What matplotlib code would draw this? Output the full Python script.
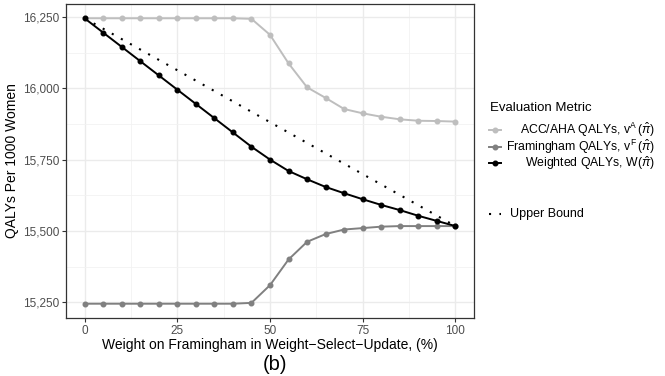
import matplotlib
matplotlib.use("Agg")
import matplotlib.pyplot as plt
from matplotlib.lines import Line2D
from matplotlib.ticker import FuncFormatter, MultipleLocator

plt.rcParams['font.family'] = ['Liberation Sans', 'DejaVu Sans']
plt.rcParams['mathtext.fontset'] = 'custom'
plt.rcParams['mathtext.rm'] = 'Liberation Sans'
plt.rcParams['mathtext.it'] = 'Liberation Sans:italic'

weight = [0, 5, 10, 15, 20, 25, 30, 35, 40, 45, 50,
          55, 60, 65, 70, 75, 80, 85, 90, 95, 100]
acc_aha = [16245, 16245, 16245, 16245, 16245, 16245, 16245, 16245, 16245, 16243, 16187,
           16087, 16003, 15966, 15927, 15912, 15900, 15891, 15886, 15885, 15883]
framingham = [15245, 15245, 15245, 15245, 15245, 15245, 15245, 15245, 15245, 15248, 15310,
              15400, 15462, 15489, 15505, 15510, 15515, 15517, 15517, 15517, 15517]
weighted = [16245, 16195, 16145, 16095, 16045, 15995, 15945, 15895, 15845, 15795, 15750,
            15710, 15681, 15654, 15632, 15611, 15591, 15573, 15553, 15535, 15517]
upper_x = [0, 100]
upper_y = [16245, 15517]

labels = [r'ACC/AHA QALYs, $\mathrm{v}^{\mathrm{A}}\,(\hat{\pi})$',
          r'Framingham QALYs, $\mathrm{v}^{\mathrm{F}}\,(\hat{\pi})$',
          r'Weighted QALYs, $\mathrm{W}(\hat{\pi})$']
colors = ['#BEBEBE', '#808080', '#000000']

fig = plt.figure(figsize=(6.65, 3.76), dpi=100)
ax = fig.add_axes([66 / 665, 1 - 318 / 376, 408 / 665, 314 / 376])

for ys, c in zip([acc_aha, framingham, weighted], colors):
    ax.plot(weight, ys, color=c, lw=1.4, marker='o', ms=3.3, zorder=3)
ax.plot(upper_x, upper_y, color='black', lw=1.5, ls=(0, (1, 4)), zorder=2)

ax.set_xlim(-5, 105)
ax.set_ylim(15195, 16295)
ax.xaxis.set_major_locator(MultipleLocator(25))
ax.xaxis.set_minor_locator(MultipleLocator(12.5))
ax.yaxis.set_major_locator(MultipleLocator(250))
ax.yaxis.set_minor_locator(MultipleLocator(125))
ax.yaxis.set_major_formatter(FuncFormatter(lambda v, p: f'{int(v):,}'))
ax.grid(which='major', color='#EBEBEB', lw=1.0)
ax.grid(which='minor', color='#F2F2F2', lw=0.6)
ax.set_axisbelow(True)
ax.tick_params(which='minor', length=0)
ax.tick_params(which='major', length=3, color='#333333', labelsize=8.5,
               labelcolor='#4D4D4D', pad=2)
for s in ax.spines.values():
    s.set_color('#333333')
    s.set_linewidth(0.9)

ax.set_xlabel('Weight on Framingham in Weight\u2212Select\u2212Update, (%)',
              fontsize=10, labelpad=1)
ax.set_ylabel('QALYs Per 1000 Women', fontsize=10, labelpad=3)

fig.text(275 / 665, 1 - 364 / 376, '(b)', fontsize=14.5, ha='center', va='center')

# legend, drawn by hand so the labels can be right aligned like ggplot
fig.text(490 / 665, 1 - 108 / 376, 'Evaluation Metric', fontsize=9.5,
         ha='left', va='center')
for i, (lab, c) in enumerate(zip(labels, colors)):
    yy = 1 - (130 + 16.5 * i) / 376
    fig.add_artist(Line2D([489 / 665, 501 / 665], [yy, yy], color=c, lw=1.4))
    fig.add_artist(Line2D([495 / 665], [yy], color=c, marker='o', ms=3.3))
    fig.text(655 / 665, yy, lab, fontsize=8.8, ha='right', va='center')

yy = 1 - 214 / 376
fig.add_artist(Line2D([489 / 665, 501 / 665], [yy, yy], color='black', lw=1.5,
                      ls=(0, (1, 4))))
fig.text(510 / 665, yy, 'Upper Bound', fontsize=9, ha='left', va='center')

fig.savefig('out.png', dpi=100)
